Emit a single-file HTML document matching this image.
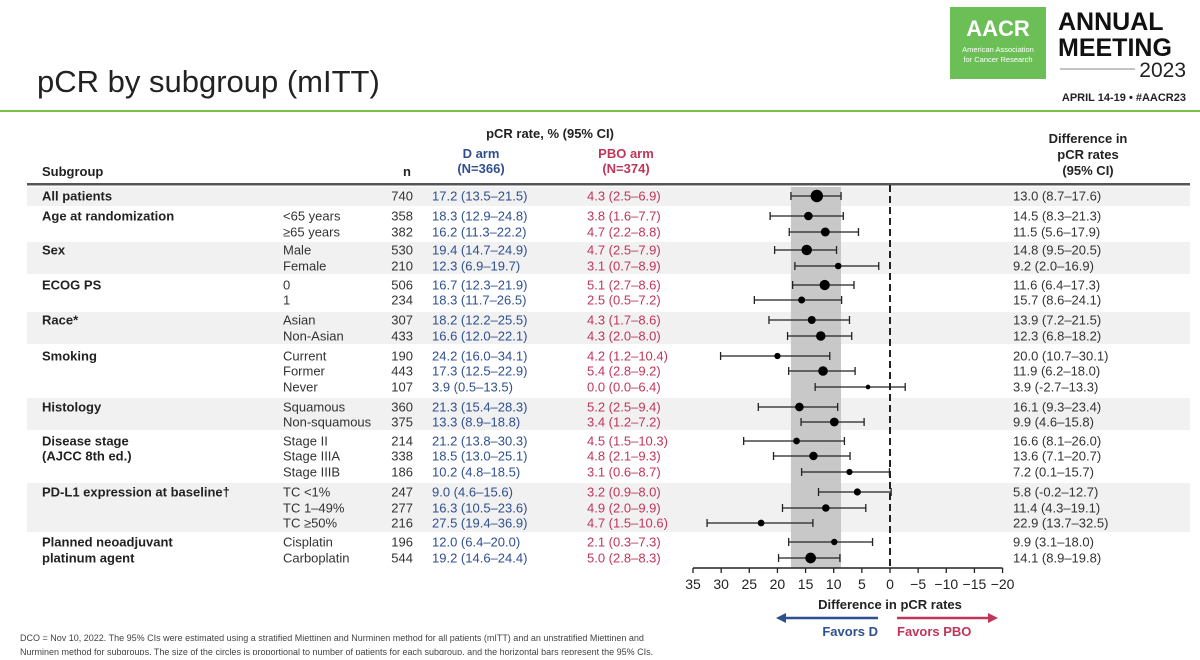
<!DOCTYPE html>
<html><head><meta charset="utf-8"><style>
html,body{margin:0;padding:0;background:#fff;}
body{width:1200px;height:655px;overflow:hidden;}
svg text{font-family:"Liberation Sans Narrow","Liberation Sans",sans-serif;}
</style></head><body>
<svg id="s" width="1200" height="655" viewBox="0 0 1200 655" xmlns="http://www.w3.org/2000/svg">
<!-- header -->
<text x="37" y="92" font-size="31" fill="#222" style="font-family:'Liberation Sans',sans-serif">pCR by subgroup (mITT)</text>
<rect x="0" y="110" width="1200" height="2" fill="#7cbf4a"/>
<g>
<rect x="950" y="7" width="96" height="72" fill="#6cbf57"/>
<text x="998" y="36" font-size="22" fill="#fff" text-anchor="middle" font-weight="bold" style="font-family:'Liberation Sans',sans-serif">AACR</text>
<text x="998" y="52" font-size="7.5" fill="#fff" text-anchor="middle" style="font-family:'Liberation Sans',sans-serif">American Association</text>
<text x="998" y="62" font-size="7.5" fill="#fff" text-anchor="middle" style="font-family:'Liberation Sans',sans-serif">for Cancer Research</text>
<text x="1058" y="30" font-size="25" font-weight="bold" fill="#111" style="font-family:'Liberation Sans',sans-serif">ANNUAL</text>
<text x="1058" y="56" font-size="25" font-weight="bold" fill="#111" style="font-family:'Liberation Sans',sans-serif">MEETING</text>
<line x1="1060" y1="69" x2="1135" y2="69" stroke="#888" stroke-width="1"/>
<text x="1186" y="77" font-size="21" fill="#222" text-anchor="end" style="font-family:'Liberation Sans',sans-serif">2023</text>
<text x="1186" y="101" font-size="11" font-weight="bold" fill="#222" text-anchor="end" style="font-family:'Liberation Sans',sans-serif">APRIL 14-19 • #AACR23</text>
</g>
<g id="bands"></g>
<!-- column headers -->
<g font-size="13" font-weight="bold">
<text x="42" y="176" fill="#222">Subgroup</text>
<text x="407" y="176" fill="#222" text-anchor="middle">n</text>
<text x="550" y="138" fill="#222" text-anchor="middle">pCR rate, % (95% CI)</text>
<text x="481" y="158" fill="#2f4f8f" text-anchor="middle">D arm</text>
<text x="481" y="173" fill="#2f4f8f" text-anchor="middle">(N=366)</text>
<text x="626" y="158" fill="#c0365a" text-anchor="middle">PBO arm</text>
<text x="626" y="173" fill="#c0365a" text-anchor="middle">(N=374)</text>
<text x="1088" y="143" fill="#222" text-anchor="middle">Difference in</text>
<text x="1088" y="159" fill="#222" text-anchor="middle">pCR rates</text>
<text x="1088" y="175" fill="#222" text-anchor="middle">(95% CI)</text>
</g>
<rect x="27" y="183" width="1163" height="2.5" fill="#555"/>
<g id="table"></g>
<g id="plot"></g>
<text x="20" y="641" font-size="9" fill="#444">DCO = Nov 10, 2022. The 95% CIs were estimated using a stratified Miettinen and Nurminen method for all patients (mITT) and an unstratified Miettinen and</text>
<text x="20" y="655" font-size="9" fill="#444">Nurminen method for subgroups. The size of the circles is proportional to number of patients for each subgroup, and the horizontal bars represent the 95% CIs.</text>
</svg>
<script>
const groups=["All patients","Age at randomization","","Sex","","ECOG PS","","Race*","","Smoking","","","Histology","","Disease stage","(AJCC 8th ed.)","","PD-L1 expression at baseline†","","","Planned neoadjuvant","platinum agent"];
const subs=["","<65 years","≥65 years","Male","Female","0","1","Asian","Non-Asian","Current","Former","Never","Squamous","Non-squamous","Stage II","Stage IIIA","Stage IIIB","TC <1%","TC 1–49%","TC ≥50%","Cisplatin","Carboplatin"];
const ns=[740,358,382,530,210,506,234,307,433,190,443,107,360,375,214,338,186,247,277,216,196,544];
const dArm=["17.2 (13.5–21.5)","18.3 (12.9–24.8)","16.2 (11.3–22.2)","19.4 (14.7–24.9)","12.3 (6.9–19.7)","16.7 (12.3–21.9)","18.3 (11.7–26.5)","18.2 (12.2–25.5)","16.6 (12.0–22.1)","24.2 (16.0–34.1)","17.3 (12.5–22.9)","3.9 (0.5–13.5)","21.3 (15.4–28.3)","13.3 (8.9–18.8)","21.2 (13.8–30.3)","18.5 (13.0–25.1)","10.2 (4.8–18.5)","9.0 (4.6–15.6)","16.3 (10.5–23.6)","27.5 (19.4–36.9)","12.0 (6.4–20.0)","19.2 (14.6–24.4)"];
const pboArm=["4.3 (2.5–6.9)","3.8 (1.6–7.7)","4.7 (2.2–8.8)","4.7 (2.5–7.9)","3.1 (0.7–8.9)","5.1 (2.7–8.6)","2.5 (0.5–7.2)","4.3 (1.7–8.6)","4.3 (2.0–8.0)","4.2 (1.2–10.4)","5.4 (2.8–9.2)","0.0 (0.0–6.4)","5.2 (2.5–9.4)","3.4 (1.2–7.2)","4.5 (1.5–10.3)","4.8 (2.1–9.3)","3.1 (0.6–8.7)","3.2 (0.9–8.0)","4.9 (2.0–9.9)","4.7 (1.5–10.6)","2.1 (0.3–7.3)","5.0 (2.8–8.3)"];
const diff=[13.0,14.5,11.5,14.8,9.2,11.6,15.7,13.9,12.3,20.0,11.9,3.9,16.1,9.9,16.6,13.6,7.2,5.8,11.4,22.9,9.9,14.1];
const lo=[8.7,8.3,5.6,9.5,2.0,6.4,8.6,7.2,6.8,10.7,6.2,-2.7,9.3,4.6,8.1,7.1,0.1,-0.2,4.3,13.7,3.1,8.9];
const hi=[17.6,21.3,17.9,20.5,16.9,17.3,24.1,21.5,18.2,30.1,18.0,13.3,23.4,15.8,26.0,20.7,15.7,12.7,19.1,32.5,18.0,19.8];
const ticks=[35,30,25,20,15,10,5,0,-5,-10,-15,-20];
const rowY=[196,216,232,250,266,285,300,320,336,356,371,387,407,422,441,456,472,492,508,523,542,558];
const shaded=[[187,206],[242,274],[312,344],[398,430],[483,532]];
const NS="http://www.w3.org/2000/svg";
function X(v){return 890-(v*197/35);}
function mk(tag,attrs,parent,txt){const e=document.createElementNS(NS,tag);for(const k in attrs)e.setAttribute(k,attrs[k]);if(txt!==undefined)e.textContent=txt;parent.appendChild(e);return e;}
const bands=document.getElementById('bands'),tb=document.getElementById('table'),pl=document.getElementById('plot');
shaded.forEach(b=>{const r=mk('rect',{x:27,y:b[0],width:1163,height:b[1]-b[0],fill:'#f1f1f1'},bands);

});
// CI band
const cb=mk('rect',{x:X(hi[0]),y:187,width:X(lo[0])-X(hi[0]),height:381,fill:'#c8c8c8'},pl);


const ref=mk('line',{x1:X(0),y1:185,x2:X(0),y2:568,stroke:'#222','stroke-width':2,'stroke-dasharray':'7,4'},pl);


for(let i=0;i<rowY.length;i++){
 const y=rowY[i]+4.5;
 if(groups[i]){const g=mk('text',{x:42,y:y,'font-size':13,'font-weight':'bold',fill:'#222'},tb,groups[i]);
 
 }
 if(subs[i]){const s=mk('text',{x:283,y:y,'font-size':13,fill:'#333'},tb,subs[i]);
 
 }
 const n=mk('text',{x:413,y:y,'font-size':13,fill:'#333','text-anchor':'end'},tb,ns[i]);
 
 
 const d=mk('text',{x:432,y:y,'font-size':13,fill:'#2f4f8f'},tb,dArm[i]);
 
 
 const p=mk('text',{x:587,y:y,'font-size':13,fill:'#c0365a'},tb,pboArm[i]);
 
 
 const f=mk('text',{x:1013,y:y,'font-size':13,fill:'#333'},tb,diff[i].toFixed(1)+' ('+lo[i].toFixed(1)+'–'+hi[i].toFixed(1)+')');
 
 
 const yy=rowY[i];
 const g=mk('g',{},pl);
 
 
 mk('line',{x1:X(hi[i]),y1:yy,x2:X(lo[i]),y2:yy,stroke:'#222','stroke-width':1.3},g);
 mk('line',{x1:X(hi[i]),y1:yy-4,x2:X(hi[i]),y2:yy+4,stroke:'#222','stroke-width':1.3},g);
 mk('line',{x1:X(lo[i]),y1:yy-4,x2:X(lo[i]),y2:yy+4,stroke:'#222','stroke-width':1.3},g);
 mk('circle',{cx:X(diff[i]),cy:yy,r:6.2*Math.sqrt(ns[i]/740),fill:'#000'},g);
}
const ax=mk('g',{},pl);


mk('line',{x1:X(35),y1:568,x2:X(-20),y2:568,stroke:'#222','stroke-width':1.5},ax);
ticks.forEach(t=>{mk('line',{x1:X(t),y1:568,x2:X(t),y2:573,stroke:'#222','stroke-width':1.3},ax);
 const tl=mk('text',{x:X(t),y:589,'font-size':14,fill:'#222','text-anchor':'middle'},ax,t<0?'−'+(-t):t);
 
 });
const xt=mk('text',{x:890,y:609,'font-size':13,'font-weight':'bold',fill:'#222','text-anchor':'middle'},pl,'Difference in pCR rates');


const a1=mk('g',{},pl);


mk('line',{x1:878,y1:618,x2:782,y2:618,stroke:'#2f4f8f','stroke-width':2.5},a1);
mk('polygon',{points:'776,618 786,613 786,623',fill:'#2f4f8f'},a1);
mk('text',{x:878,y:636,'font-size':13,'font-weight':'bold',fill:'#2f4f8f','text-anchor':'end'},a1,'Favors D');
const a2=mk('g',{},pl);


mk('line',{x1:897,y1:618,x2:990,y2:618,stroke:'#c0365a','stroke-width':2.5},a2);
mk('polygon',{points:'998,618 988,613 988,623',fill:'#c0365a'},a2);
mk('text',{x:897,y:636,'font-size':13,'font-weight':'bold',fill:'#c0365a'},a2,'Favors PBO');
</script>
</body></html>
